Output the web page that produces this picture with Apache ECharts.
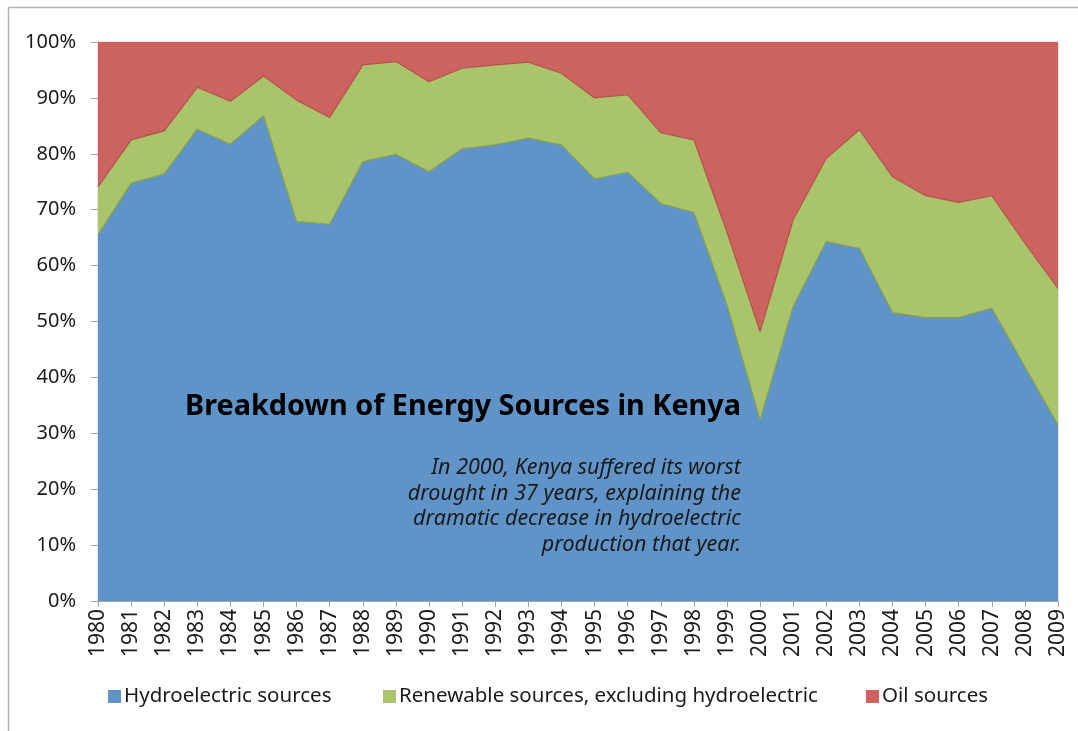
<!DOCTYPE html>
<html>
<head>
<meta charset="utf-8">
<script src="https://cdn.jsdelivr.net/npm/echarts@6/dist/echarts.min.js"></script>
<style>
  html, body { margin: 0; padding: 0; background: #fff; }
  #chart { width: 1078px; height: 731px; }
</style>
</head>
<body>
<div id="chart"></div>
<script>
// years on the x axis
const years = ['1980', '1981', '1982', '1983', '1984', '1985', '1986', '1987', '1988', '1989',
    '1990', '1991', '1992', '1993', '1994', '1995', '1996', '1997', '1998', '1999',
    '2000', '2001', '2002', '2003', '2004', '2005', '2006', '2007', '2008', '2009'];
// share of production, in percent
const hydro = [65.5, 74.7, 76.4, 84.4, 81.7, 86.8, 67.9, 67.4, 78.6, 79.9,
    76.8, 80.9, 81.6, 82.8, 81.6, 75.5, 76.7, 71.1, 69.5, 53.0,
    32.4, 52.7, 64.3, 63.1, 51.6, 50.7, 50.7, 52.4, 41.9, 31.5];
const renewable = [8.6, 7.8, 7.7, 7.5, 7.7, 7.1, 21.7, 19.1, 17.3, 16.6,
    16.1, 14.4, 14.3, 13.6, 12.8, 14.5, 13.9, 12.7, 13.0, 13.0,
    15.8, 15.5, 14.9, 21.2, 24.3, 21.8, 20.6, 20.1, 22.1, 24.4];
const oil = [25.9, 17.5, 15.9, 8.1, 10.6, 6.1, 10.4, 13.5, 4.1, 3.5,
    7.1, 4.7, 4.1, 3.6, 5.6, 10.0, 9.4, 16.2, 17.5, 34.0,
    51.8, 31.8, 20.8, 15.7, 24.1, 27.5, 28.7, 27.5, 36.0, 44.1];
const yTicks = [0, 10, 20, 30, 40, 50, 60, 70, 80, 90, 100];

const font = 'Noto Sans';
const txt = '#1a1a1a';
const grey = '#a6a6a6';

const myChart = echarts.init(document.getElementById('chart'));

function legendFor(name, left) {
    return {
        data: [name],
        left: left,
        top: 686,
        icon: 'rect',
        itemWidth: 13,
        itemHeight: 13,
        itemGap: 4,
        padding: 0,
        textStyle: { fontFamily: font, fontSize: 20.5, color: txt, padding: [0, 0, 0, -2] }
    };
}

const option = {
    animation: false,
    textStyle: { fontFamily: font },
    grid: { left: 98, right: 20, top: 42, bottom: 130, show: true, borderColor: '#cfcfcf', borderWidth: 1 },
    legend: [
        legendFor('Hydroelectric sources', 108),
        legendFor('Renewable sources, excluding hydroelectric', 383),
        legendFor('Oil sources', 866)
    ],
    xAxis: {
        type: 'category',
        data: years,
        boundaryGap: false,
        axisLine: { lineStyle: { color: grey, width: 1 } },
        axisTick: { show: true, length: 6, alignWithLabel: true, lineStyle: { color: grey } },
        axisLabel: { rotate: 90, margin: 8, fontSize: 21, color: txt, fontFamily: font, interval: 0 },
        splitLine: { show: false }
    },
    yAxis: {
        type: 'value',
        min: yTicks[0],
        max: yTicks[yTicks.length - 1],
        interval: 10,
        axisLine: { show: true, lineStyle: { color: grey, width: 1 } },
        axisTick: { show: true, length: 7, lineStyle: { color: grey } },
        axisLabel: { formatter: '{value}%', margin: 22, fontSize: 20, color: txt, fontFamily: font },
        splitLine: { show: false }
    },
    series: [
        {
            name: 'Hydroelectric sources',
            type: 'line',
            stack: 'total',
            data: hydro,
            showSymbol: false,
            itemStyle: { color: '#6094c8' },
            lineStyle: { color: '#86a24a', width: 1.2 },
            areaStyle: { color: '#6094c8', opacity: 1 },
            z: 3
        },
        {
            name: 'Renewable sources, excluding hydroelectric',
            type: 'line',
            stack: 'total',
            data: renewable,
            showSymbol: false,
            itemStyle: { color: '#aac46c' },
            lineStyle: { color: '#b4504b', width: 1.2 },
            areaStyle: { color: '#aac46c', opacity: 1 },
            z: 2
        },
        {
            name: 'Oil sources',
            type: 'line',
            stack: 'total',
            data: oil,
            showSymbol: false,
            itemStyle: { color: '#cd635e' },
            lineStyle: { width: 0 },
            areaStyle: { color: '#cd635e', opacity: 1 },
            z: 1
        }
    ],
    graphic: [
        // frame around the chart (left and top edges visible)
        { type: 'line', shape: { x1: 8.5, y1: 7.5, x2: 1078, y2: 7.5 }, style: { stroke: '#b3b3b3', lineWidth: 1.5 }, silent: true },
        { type: 'line', shape: { x1: 8.5, y1: 7.5, x2: 8.5, y2: 731 }, style: { stroke: '#b3b3b3', lineWidth: 1.5 }, silent: true },
        {
            type: 'text',
            left: 185,
            top: 392,
            z: 10,
            style: {
                text: 'Breakdown of Energy Sources in Kenya',
                fontFamily: font,
                fontSize: 28.8,
                fontWeight: 'bold',
                fill: '#000'
            }
        },
        {
            type: 'text',
            x: 741,
            y: 455,
            z: 10,
            style: {
                text: 'In 2000, Kenya suffered its worst\ndrought in 37 years, explaining the\ndramatic decrease in hydroelectric\nproduction that year.',
                fontFamily: font,
                fontSize: 21.5,
                fontStyle: 'italic',
                lineHeight: 25.7,
                align: 'right',
                fill: '#1a1a1a'
            }
        }
    ]
};

myChart.setOption(option);
</script>
</body>
</html>
